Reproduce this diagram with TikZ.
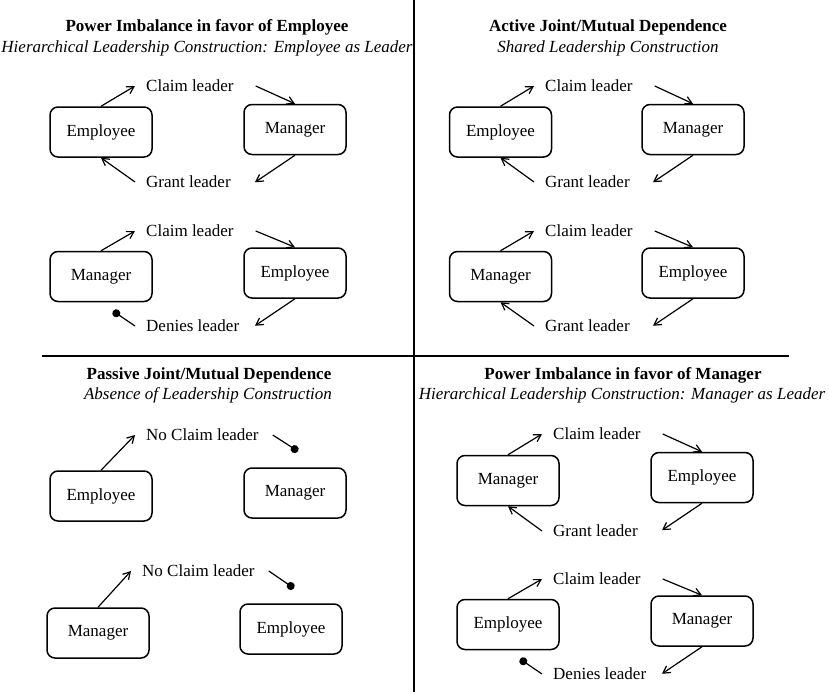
\documentclass[tikz,border=0pt]{standalone}
\usepackage{fontspec}
\setmainfont{Liberation Serif}
\usetikzlibrary{arrows.meta}
\begin{document}
\begin{tikzpicture}[x=1pt,y=-1pt,
  box/.style={draw,line width=1.5pt,rounded corners=8pt,minimum width=102pt,minimum height=50pt,inner sep=0pt,font=\fontsize{17}{20}\selectfont},
  lbl/.style={anchor=west,inner sep=0pt,font=\fontsize{17}{20}\selectfont},
  ttl/.style={font=\fontsize{17}{20}\selectfont\bfseries,inner sep=0pt},
  sub/.style={font=\fontsize{17}{20}\selectfont\itshape,inner sep=0pt},
  arr/.style={line width=1.2pt,-{Straight Barb[angle=60:8pt]}},
  dotl/.style={line width=1.2pt,-{Circle[length=8pt]}},
  divider/.style={line width=1.5pt}]
\useasboundingbox (0,0) rectangle (829,693);
% dividers
\coordinate (vt) at (414,0);
\coordinate (vb) at (414,692);
\coordinate (hl) at (42,356);
\coordinate (hr) at (789,356);
\draw[divider] (vt) -- (vb);
\draw[divider] (hl) -- (hr);

% ---------- Top left ----------
\node[ttl] (t1) at (207,27) {Power Imbalance in favor of Employee};
\node[sub] (s1) at (207,48) {Hierarchical Leadership Construction: Employee as Leader};
\node[box] (a1) at (101,132) {Employee};
\node[box] (a2) at (295,129.5) {Manager};
\node[lbl] (a3) at (146,86) {Claim leader};
\node[lbl] (a4) at (146,182) {Grant leader};
\draw[arr] (a1.north) -- ([xshift=-11pt]a3.west);
\draw[arr] ([xshift=22pt]a3.east) -- (a2.north);
\draw[arr] (a2.south) -- ++(-40,27);
\draw[arr] ([xshift=-11pt]a4.west) -- (a1.south);

\node[box] (b1) at (101,276.5) {Manager};
\node[box] (b2) at (295,273) {Employee};
\node[lbl] (b3) at (146,231) {Claim leader};
\node[lbl] (b4) at (146,326) {Denies leader};
\draw[arr] (b1.north) -- ([xshift=-11pt]b3.west);
\draw[arr] ([xshift=22pt]b3.east) -- (b2.north);
\draw[arr] (b2.south) -- ++(-40,27);
\draw[dotl] ([xshift=-11pt]b4.west) -- ++(-22,-15);

% ---------- Top right ----------
\node[ttl] (t2) at (608,27) {Active Joint/Mutual Dependence};
\node[sub] (s2) at (608,48) {Shared Leadership Construction};
\node[box] (c1) at (500.5,132) {Employee};
\node[box] (c2) at (693,129.5) {Manager};
\node[lbl] (c3) at (545,86) {Claim leader};
\node[lbl] (c4) at (545,182) {Grant leader};
\draw[arr] (c1.north) -- ([xshift=-11pt]c3.west);
\draw[arr] ([xshift=22pt]c3.east) -- (c2.north);
\draw[arr] (c2.south) -- ++(-40,27);
\draw[arr] ([xshift=-11pt]c4.west) -- (c1.south);

\node[box] (d1) at (500.5,276.5) {Manager};
\node[box] (d2) at (693,273) {Employee};
\node[lbl] (d3) at (545,231) {Claim leader};
\node[lbl] (d4) at (545,326) {Grant leader};
\draw[arr] (d1.north) -- ([xshift=-11pt]d3.west);
\draw[arr] ([xshift=22pt]d3.east) -- (d2.north);
\draw[arr] (d2.south) -- ++(-40,27);
\draw[arr] ([xshift=-11pt]d4.west) -- (d1.south);

% ---------- Bottom left ----------
\node[ttl] (t3) at (209,375) {Passive Joint/Mutual Dependence};
\node[sub] (s3) at (208,395) {Absence of Leadership Construction};
\node[box] (e1) at (101,496) {Employee};
\node[box] (e2) at (295,493) {Manager};
\node[lbl] (e3) at (146,435) {No Claim leader};
\draw[arr] (e1.north) -- ([xshift=-11pt]e3.west);
\draw[dotl] ([xshift=14pt]e3.east) -- ([shift={(3,-16)}]e2.north);

\node[box] (f1) at (98,633) {Manager};
\node[box] (f2) at (291,629) {Employee};
\node[lbl] (f3) at (142,571) {No Claim leader};
\draw[arr] (f1.north) -- ([xshift=-11pt]f3.west);
\draw[dotl] ([xshift=14pt]f3.east) -- ([shift={(3,-15)}]f2.north);

% ---------- Bottom right ----------
\node[ttl] (t4) at (623,375) {Power Imbalance in favor of Manager};
\node[sub] (s4) at (622,395) {Hierarchical Leadership Construction: Manager as Leader};
\node[box] (g1) at (508,480.5) {Manager};
\node[box] (g2) at (702,477.5) {Employee};
\node[lbl] (g3) at (553,434) {Claim leader};
\node[lbl] (g4) at (553,531) {Grant leader};
\draw[arr] (g1.north) -- ([xshift=-11pt]g3.west);
\draw[arr] ([xshift=22pt]g3.east) -- (g2.north);
\draw[arr] (g2.south) -- ++(-40,27);
\draw[arr] ([xshift=-11pt]g4.west) -- (g1.south);

\node[box] (h1) at (508,624.5) {Employee};
\node[box] (h2) at (702,621) {Manager};
\node[lbl] (h3) at (553,579) {Claim leader};
\node[lbl] (h4) at (553,674) {Denies leader};
\draw[arr] (h1.north) -- ([xshift=-11pt]h3.west);
\draw[arr] ([xshift=22pt]h3.east) -- (h2.north);
\draw[arr] (h2.south) -- ++(-40,27);
\draw[dotl] ([xshift=-11pt]h4.west) -- ++(-22,-15);
\end{tikzpicture}
\end{document}
